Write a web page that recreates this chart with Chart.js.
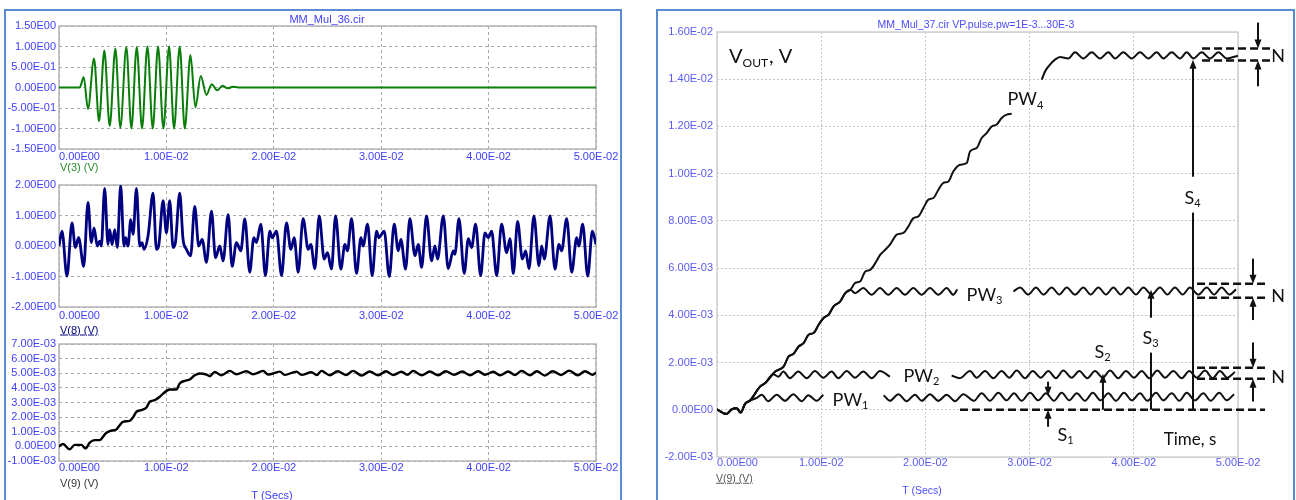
<!DOCTYPE html>
<html>
<head>
<meta charset="utf-8">
<script src="https://cdn.jsdelivr.net/npm/chart.js@4.4.0/dist/chart.umd.min.js"></script>
<style>
body { margin: 0; width: 1296px; height: 500px; overflow: hidden; position: relative; background: #fff; font-family: "Liberation Sans", Arial, sans-serif; }
.panel { position: absolute; border: 2px solid #5b8bd0; border-bottom: none; box-sizing: border-box; }
canvas { position: absolute; }
.t { position: absolute; font-size: 11px; line-height: 1; white-space: nowrap; transform: translateY(-50%); }
.c { transform: translate(-50%, -50%); }
</style>
</head>
<body>
<div class="panel" style="left:4px;top:9px;width:618px;height:491px"></div>
<div class="panel" style="left:656px;top:9px;width:639px;height:491px"></div>

<canvas id="scope1" width="620" height="165" style="left:0;top:0"></canvas>
<canvas id="scope2" width="620" height="165" style="left:0;top:160px"></canvas>
<canvas id="scope3" width="620" height="180" style="left:0;top:320px"></canvas>
<canvas id="scope4" width="636" height="488" style="left:660px;top:12px"></canvas>

<div class="t c" style="left:327px;top:19px;color:#3c3cff">MM_Mul_36.cir</div>
<div class="t" style="left:60px;top:167px;color:#2a8a2a">V(3) (V)</div>
<div class="t" style="left:60px;top:330px;color:#000080;text-decoration:underline">V(8) (V)</div>
<div class="t" style="left:60px;top:483px;color:#333">V(9) (V)</div>
<div class="t c" style="left:272px;top:495px;color:#3c3cff">T (Secs)</div>

<div class="t c" style="left:976px;top:24px;color:#4a4aff;font-size:10.5px">MM_Mul_37.cir VP.pulse.pw=1E-3...30E-3</div>
<div class="t" style="left:716px;top:478px;color:#555;font-size:10.5px;text-decoration:underline">V(9) (V)</div>
<div class="t c" style="left:922px;top:490px;color:#4a4aff;font-size:10.5px">T (Secs)</div>

<script>
// V(3): [time s, volts]
const v3 = [[0,0],[0.00193,0],[0.00230,0.25],[0.00270,-0.52],[0.00326,0.71],[0.00373,-0.82],[0.00422,0.90],[0.00472,-0.94],
  [0.00525,0.95],[0.00571,-0.98],[0.00627,0.98],[0.00674,-1.0],[0.00724,0.99],[0.00773,-1.0],[0.00823,1.0],[0.00873,-1.0],
  [0.00922,1.0],[0.00972,-1.0],[0.01025,1.0],[0.01071,-1.0],[0.01124,1.0],[0.01171,-1.0],[0.01224,0.79],[0.01270,-0.48],
  [0.01320,0.28],[0.01373,-0.18],[0.01422,0.08],[0.01472,-0.07],[0.01522,0.04],[0.01571,-0.02],[0.01621,0.02],[0.01668,0],[0.05,0]];

// V(8)
const v8 = [[0,0],[0.00028,0.49],[0.00074,-0.99],[0.00121,0.76],[0.00152,-0.05],[0.00183,0.27],[0.00230,-0.67],[0.00270,1.43],
  [0.00301,0.11],[0.00326,0.59],[0.00357,0],[0.00379,0.16],[0.00394,0],[0.00425,1.89],[0.00456,0.05],[0.00472,0.54],
  [0.00494,0.05],[0.00519,0.54],[0.00543,-0.05],[0.00574,1.98],[0.00605,0],[0.00621,0.27],[0.00643,0],[0.00668,0.86],
  [0.00690,0.38],[0.00721,1.89],[0.00752,0],[0.00773,0.11],[0.00792,-0.11],[0.00830,0.35],[0.00876,1.73],[0.00907,-0.11],
  [0.00928,0],[0.00969,1.49],[0.01000,0.43],[0.01031,1.49],[0.01062,-0.05],[0.01084,0.11],[0.01124,1.73],[0.01155,0.22],
  [0.01187,-0.11],[0.01225,-0.32],[0.01264,1.30],[0.01301,0],[0.01333,0.22],[0.01373,-0.54],[0.01420,1.14],[0.01457,-0.38],
  [0.01497,0],[0.01528,-0.49],[0.01575,1.03],[0.01612,-0.67],[0.01652,0.11],[0.01693,-0.16],
  [0.01730,0.89],[0.01776,-0.86],[0.01814,0.27],[0.01839,0.11],[0.01879,0.72],[0.01922,-0.97],[0.01963,0.49],[0.01985,0.27],
  [0.02025,0.49],[0.02072,-0.97],[0.02118,0.76],[0.02159,-0.11],[0.02190,0.27],[0.02227,-0.86],[0.02273,0.90],[0.02320,-0.11],
  [0.02345,0.05],[0.02382,-0.74],[0.02423,0.99],[0.02469,-0.43],[0.02500,-0.22],[0.02537,-0.76],[0.02575,0.99],[0.02624,-0.76],
  [0.02662,0.05],[0.02686,-0.16],[0.02724,0.90],[0.02770,-0.90],[0.02811,0.27],[0.02832,0],[0.02873,0.72],[0.02916,-0.97],
  [0.02957,0.49],[0.02978,0.27],[0.03028,0.49],[0.03075,-1.0],[0.03121,0.72],[0.03159,-0.16],[0.03183,0.22],[0.03227,-0.76],
  [0.03267,0.90],[0.03314,-0.32],[0.03345,0.05],
  [0.03376,-0.70],[0.03422,0.99],[0.03469,-0.49],[0.03500,0],[0.03525,-0.43],[0.03578,0.99],[0.03624,-0.74],[0.03671,-0.16],
  [0.03686,-0.27],[0.03724,0.90],[0.03773,-0.90],[0.03811,0.24],[0.03842,-0.05],[0.03879,0.72],[0.03926,-0.97],[0.03966,0.43],
  [0.03997,0.27],[0.04028,0.49],[0.04075,-0.97],[0.04121,0.72],[0.04168,-0.22],[0.04199,0.24],[0.04230,-0.90],[0.04270,0.81],
  [0.04314,-0.43],[0.04345,-0.16],[0.04376,-0.74],[0.04422,0.99],[0.04469,-0.65],[0.04494,0],[0.04519,-0.43],[0.04572,0.99],
  [0.04618,-0.76],[0.04655,0.05],[0.04680,-0.16],[0.04727,0.90],[0.04774,-0.86],[0.04820,0.27],[0.04841,0],[0.04876,0.72],
  [0.04923,-0.99],[0.04966,0.49],[0.05000,0.05]];

// V(9), left panel
const v9 = [[0,0],[0.00037,0.00016],[0.00099,-0.00020],[0.00146,0.00010],[0.00208,0.00010],[0.00248,-0.00014],[0.00286,0.00025],
  [0.00332,0.00043],[0.00379,0.00043],[0.00410,0.00066],[0.00435,0.00089],[0.00472,0.00105],[0.00534,0.00116],[0.00565,0.00145],
  [0.00596,0.00168],[0.00658,0.00175],[0.00689,0.00198],[0.00720,0.00236],[0.00767,0.00248],[0.00814,0.00266],[0.00845,0.00305],
  [0.00891,0.00316],[0.00938,0.00339],[0.00969,0.00361],[0.01031,0.00389],[0.01093,0.00389],[0.01124,0.00430],[0.01171,0.00448],
  [0.01217,0.00457],[0.01264,0.00486],[0.01311,0.00498],[0.01373,0.00491],[0.01404,0.00480],[0.01450,0.00509],[0.01512,0.00486],
  [0.01590,0.00516],[0.01652,0.00493],[0.01745,0.00514],[0.01807,0.00493],[0.01901,0.00516],[0.01947,0.00491],[0.02056,0.00511],
  [0.02102,0.00489],[0.02211,0.00511],[0.02258,0.00489],[0.02351,0.00507],[0.02400,0.00488],
  [0.02444,0.00516],[0.02522,0.00486],[0.02593,0.00514],[0.02671,0.00488],[0.02739,0.00516],[0.02817,0.00484],[0.02894,0.00512],
  [0.02972,0.00486],[0.03044,0.00514],[0.03112,0.00488],[0.03190,0.00510],[0.03243,0.00490],[0.03298,0.00516],[0.03376,0.00486],
  [0.03453,0.00512],[0.03531,0.00486],[0.03600,0.00514],[0.03680,0.00490],[0.03755,0.00512],[0.03826,0.00486],[0.03904,0.00514],
  [0.03966,0.00490],[0.04043,0.00510],[0.04106,0.00486],[0.04183,0.00512],[0.04246,0.00488],[0.04308,0.00516],[0.04385,0.00486],
  [0.04448,0.00514],[0.04525,0.00484],[0.04596,0.00514],[0.04674,0.00488],[0.04752,0.00518],[0.04830,0.00486],[0.04898,0.00514],
  [0.04969,0.00490],[0.05000,0.00505]];

// right panel, V(9) for four pulse widths (null = gap behind the label)
const pw1 = [[0,0.00002],[0.00089,-0.00018],[0.00141,0.00002],[0.00189,0.00007],[0.00227,-0.00012],[0.00269,0.00025],[0.00317,0.00039],
  [0.00381,0.00050],[0.00429,0.00064],[0.00492,0.00036],[0.00573,0.00064],[0.00653,0.00038],[0.00732,0.00066],[0.00813,0.00036],
  [0.00876,0.00062],[0.00957,0.00038],[0.01020,0.00064],[0.01300,null],
  [0.01599,0.00062],[0.01660,0.00038],[0.01740,0.00066],[0.01820,0.00036],[0.01900,0.00064],[0.01965,0.00038],[0.02044,0.00066],
  [0.02124,0.00038],[0.02204,0.00064],[0.02284,0.00036],[0.02364,0.00066],[0.02466,0.00038],[0.02540,0.00070],[0.02620,0.00038],
  [0.02700,0.00072],[0.02780,0.00040],[0.02850,0.00070],[0.02924,0.00038],[0.03004,0.00072],[0.03084,0.00040],[0.03157,0.00070],
  [0.03234,0.00038],[0.03308,0.00072],[0.03381,0.00040],[0.03452,0.00070],[0.03532,0.00038],[0.03606,0.00072],[0.03682,0.00040],
  [0.03755,0.00070],[0.03829,0.00038],[0.03906,0.00072],[0.03980,0.00040],[0.04060,0.00070],[0.04130,0.00038],[0.04213,0.00072],
  [0.04283,0.00040],[0.04364,0.00070],[0.04437,0.00038],[0.04508,0.00072],[0.04587,0.00040],[0.04667,0.00070],[0.04738,0.00038],
  [0.04820,0.00072],[0.04892,0.00040],[0.04962,0.00066]];

const pw2 = [[0,0.00002],[0.00089,-0.00018],[0.00141,0.00002],[0.00189,0.00007],[0.00227,-0.00012],[0.00269,0.00025],[0.00317,0.00039],
  [0.00415,0.00099],[0.00463,0.00113],[0.00540,0.00150],[0.00590,0.00140],[0.00636,0.00162],[0.00700,0.00134],[0.00780,0.00162],
  [0.00861,0.00134],[0.00940,0.00164],[0.01020,0.00136],[0.01100,0.00162],[0.01164,0.00134],[0.01245,0.00164],[0.01324,0.00136],
  [0.01404,0.00162],[0.01485,0.00134],[0.01564,0.00164],[0.01660,0.00140],[0.02000,null],
  [0.02252,0.00145],[0.02330,0.00134],[0.02428,0.00164],[0.02492,0.00136],[0.02572,0.00164],[0.02652,0.00134],[0.02732,0.00164],
  [0.02805,0.00136],[0.02876,0.00166],[0.02956,0.00134],[0.03030,0.00164],[0.03107,0.00136],[0.03180,0.00164],[0.03253,0.00134],
  [0.03323,0.00166],[0.03404,0.00136],[0.03477,0.00164],[0.03554,0.00134],[0.03628,0.00164],[0.03702,0.00136],[0.03772,0.00166],
  [0.03851,0.00134],[0.03925,0.00164],[0.04002,0.00136],[0.04076,0.00164],[0.04149,0.00134],[0.04226,0.00166],[0.04300,0.00136],
  [0.04379,0.00164],[0.04460,0.00134],[0.04533,0.00164],[0.04604,0.00136],[0.04683,0.00166],[0.04757,0.00134],[0.04827,0.00164],
  [0.04897,0.00136],[0.04971,0.00160]];

const pw3 = [[0,0.00002],[0.00089,-0.00018],[0.00141,0.00002],[0.00189,0.00007],[0.00227,-0.00012],[0.00269,0.00025],[0.00317,0.00039],
  [0.00415,0.00099],[0.00463,0.00113],[0.00559,0.00162],[0.00639,0.00183],[0.00687,0.00226],[0.00735,0.00237],[0.00783,0.00268],
  [0.00831,0.00282],[0.00879,0.00318],[0.00927,0.00325],[0.00975,0.00360],[0.01023,0.00389],[0.01071,0.00403],[0.01119,0.00438],
  [0.01183,0.00459],[0.01231,0.00494],[0.01279,0.00508],[0.01327,0.00494],[0.01404,0.00516],[0.01484,0.00487],[0.01564,0.00516],
  [0.01644,0.00487],[0.01724,0.00516],[0.01804,0.00487],[0.01884,0.00516],[0.01964,0.00487],[0.02044,0.00516],[0.02124,0.00487],
  [0.02204,0.00516],[0.02268,0.00487],[0.02306,0.00510],[0.02600,null],
  [0.02844,0.00501],[0.02908,0.00518],[0.02988,0.00488],[0.03061,0.00518],[0.03132,0.00488],[0.03212,0.00518],[0.03285,0.00488],
  [0.03356,0.00518],[0.03436,0.00488],[0.03516,0.00518],[0.03586,0.00488],[0.03660,0.00518],[0.03733,0.00488],[0.03804,0.00518],
  [0.03874,0.00488],[0.03948,0.00518],[0.04021,0.00488],[0.04092,0.00518],[0.04172,0.00488],[0.04251,0.00518],[0.04322,0.00488],
  [0.04395,0.00518],[0.04469,0.00488],[0.04539,0.00518],[0.04619,0.00488],[0.04700,0.00518],[0.04770,0.00488],[0.04843,0.00518],
  [0.04917,0.00488],[0.04981,0.00510]];

const pw4 = [[0,0.00002],[0.00089,-0.00018],[0.00141,0.00002],[0.00189,0.00007],[0.00227,-0.00012],[0.00269,0.00025],[0.00317,0.00039],
  [0.00415,0.00099],[0.00463,0.00113],[0.00559,0.00162],[0.00639,0.00183],[0.00687,0.00226],[0.00735,0.00237],[0.00783,0.00268],
  [0.00831,0.00282],[0.00879,0.00318],[0.00927,0.00325],[0.00975,0.00360],[0.01023,0.00389],[0.01071,0.00403],[0.01119,0.00438],
  [0.01183,0.00459],[0.01231,0.00494],[0.01279,0.00508],[0.01327,0.00537],[0.01375,0.00544],[0.01423,0.00586],[0.01471,0.00593],
  [0.01519,0.00621],[0.01567,0.00657],[0.01599,0.00671],[0.01660,0.00699],[0.01725,0.00742],[0.01789,0.00749],[0.01837,0.00777],
  [0.01885,0.00812],[0.01933,0.00819],[0.01981,0.00855],[0.02029,0.00890],[0.02077,0.00897],[0.02125,0.00932],[0.02173,0.00961],
  [0.02221,0.00967],[0.02269,0.01010],[0.02333,0.01038],[0.02397,0.01045],[0.02428,0.01094],[0.02492,0.01109],[0.02540,0.01151],
  [0.02588,0.01172],[0.02636,0.01200],[0.02684,0.01208],[0.02732,0.01236],[0.02780,0.01250],[0.02828,0.01254],[0.03000,null],
  [0.03116,0.01398],[0.03148,0.01433],[0.03196,0.01462],[0.03244,0.01483],[0.03292,0.01494],[0.03372,0.01488],[0.03436,0.01514],
  [0.03516,0.01488],[0.03596,0.01514],[0.03676,0.01488],[0.03756,0.01514],[0.03820,0.01488],[0.03900,0.01514],[0.03980,0.01488],
  [0.04060,0.01514],[0.04140,0.01488],[0.04220,0.01514],[0.04284,0.01488],[0.04364,0.01514],[0.04444,0.01488],[0.04508,0.01514],
  [0.04572,0.01488],[0.04652,0.01514],[0.04732,0.01488],[0.04812,0.01514],[0.04892,0.01488],[0.05000,0.01500]];

// annotation texts and arrows of the right panel, placed in data units
const notes = [
  {text: 'V', sub: 'OUT', tail: ', V', t: 0.00115, v: 0.01496, size: 20, left: true},
  {text: 'PW', sub: '1', t: 0.01286, v: 0.00042, size: 18},
  {text: 'PW', sub: '2', t: 0.01967, v: 0.00144, size: 18},
  {text: 'PW', sub: '3', t: 0.02572, v: 0.00487, size: 18},
  {text: 'PW', sub: '4', t: 0.02965, v: 0.01314, size: 18},
  {text: 'S', sub: '1', t: 0.03349, v: -0.00106, size: 18},
  {text: 'S', sub: '2', t: 0.03704, v: 0.00246, size: 18},
  {text: 'S', sub: '3', t: 0.04165, v: 0.00305, size: 18},
  {text: 'S', sub: '4', t: 0.04568, v: 0.00898, size: 18},
  {text: 'Time, s', t: 0.04539, v: -0.00127, size: 17},
  {text: 'N', t: 0.05384, v: 0.01496, size: 18},
  {text: 'N', t: 0.05384, v: 0.00479, size: 18},
  {text: 'N', t: 0.05384, v: 0.00140, size: 18}
];
const arrows = [
  {t: 0.03177, from: 0.00119, to: 0.00059, head: true},
  {t: 0.03177, from: -0.00072, to: 0, head: true},
  {t: 0.03704, from: 0, to: 0.00153, head: true},
  {t: 0.04165, from: 0, to: 0.00242},
  {t: 0.04165, from: 0.00390, to: 0.00508, head: true},
  {t: 0.04568, from: 0, to: 0.00835},
  {t: 0.04568, from: 0.00987, to: 0.01483, head: true},
  {t: 0.05192, from: 0.01640, to: 0.01530, head: true},
  {t: 0.05192, from: 0.01370, to: 0.01479, head: true},
  {t: 0.05144, from: 0.00640, to: 0.00534, head: true},
  {t: 0.05144, from: 0.00380, to: 0.00475, head: true},
  {t: 0.05144, from: 0.00285, to: 0.00178, head: true},
  {t: 0.05144, from: 0.00035, to: 0.00131, head: true}
];
const dashLines = [
  {v: 0, t0: 0.02332, t1: 0.05259},
  {v: 0.01530, t0: 0.04655, t1: 0.05307},
  {v: 0.01479, t0: 0.04655, t1: 0.05307},
  {v: 0.00534, t0: 0.04607, t1: 0.05259},
  {v: 0.00475, t0: 0.04607, t1: 0.05259},
  {v: 0.00178, t0: 0.04607, t1: 0.05259},
  {v: 0.00131, t0: 0.04607, t1: 0.05259}
];

function fmtE(v) {
  if (Math.abs(v) < 1e-12) return '0.00E00';
  let e = Math.floor(Math.log10(Math.abs(v)));
  let m = v / Math.pow(10, e);
  if (Math.abs(m) >= 9.995) { e += 1; m = v / Math.pow(10, e); }
  const es = e === 0 ? '00' : (e < 0 ? '-' : '') + String(Math.abs(e)).padStart(2, '0');
  return m.toFixed(2) + 'E' + es;
}

const xLabels = {
  id: 'xLabels',
  afterDraw(chart, args, opts) {
    const s = chart.scales.x, ctx = chart.ctx;
    ctx.save();
    ctx.font = opts.font;
    ctx.fillStyle = opts.color;
    ctx.textBaseline = 'middle';
    s.ticks.forEach((tk, i) => {
      ctx.textAlign = i === 0 ? 'left' : 'center';
      ctx.fillText(fmtE(tk.value), s.getPixelForValue(tk.value), chart.chartArea.bottom + opts.gap);
    });
    ctx.restore();
  }
};

const frame = {
  id: 'frame',
  beforeDatasetsDraw(chart, args, opts) {
    const a = chart.chartArea, ctx = chart.ctx;
    ctx.save();
    ctx.strokeStyle = opts.color;
    ctx.lineWidth = opts.width;
    ctx.strokeRect(a.left, a.top, a.right - a.left, a.bottom - a.top);
    ctx.restore();
  }
};

function subText(ctx, n, x, y) {
  const big = n.size + 'px Lato', small = Math.round(n.size * 0.62) + 'px Lato';
  ctx.font = big;
  const w1 = ctx.measureText(n.text).width;
  ctx.font = small;
  const w2 = n.sub ? ctx.measureText(n.sub).width + 1 : 0;
  ctx.font = big;
  const w3 = n.tail ? ctx.measureText(n.tail).width : 0;
  let x0 = n.left ? x : x - (w1 + w2 + w3) / 2;
  ctx.textAlign = 'left';
  ctx.textBaseline = 'middle';
  ctx.font = big;
  ctx.fillText(n.text, x0, y);
  if (n.sub) {
    ctx.font = small;
    ctx.fillText(n.sub, x0 + w1, y + n.size * 0.33);
  }
  if (n.tail) {
    ctx.font = big;
    ctx.fillText(n.tail, x0 + w1 + w2, y);
  }
}

const marks = {
  id: 'marks',
  afterDatasetsDraw(chart) {
    const ctx = chart.ctx, xs = chart.scales.x, ys = chart.scales.y;
    ctx.save();
    ctx.strokeStyle = '#111';
    ctx.fillStyle = '#111';
    ctx.lineWidth = 2.5;
    ctx.setLineDash([8, 4]);
    dashLines.forEach(d => {
      ctx.beginPath();
      ctx.moveTo(xs.getPixelForValue(d.t0), ys.getPixelForValue(d.v));
      ctx.lineTo(xs.getPixelForValue(d.t1), ys.getPixelForValue(d.v));
      ctx.stroke();
    });
    ctx.setLineDash([]);
    ctx.lineWidth = 2;
    arrows.forEach(a => {
      const x = xs.getPixelForValue(a.t), y1 = ys.getPixelForValue(a.from), y2 = ys.getPixelForValue(a.to);
      const dir = y2 > y1 ? 1 : -1;
      ctx.beginPath();
      ctx.moveTo(x, y1);
      ctx.lineTo(x, a.head ? y2 - dir * 6 : y2);
      ctx.stroke();
      if (a.head) {
        ctx.beginPath();
        ctx.moveTo(x, y2);
        ctx.lineTo(x - 3.5, y2 - dir * 9);
        ctx.lineTo(x + 3.5, y2 - dir * 9);
        ctx.closePath();
        ctx.fill();
      }
    });
    notes.forEach(n => subText(ctx, n, xs.getPixelForValue(n.t), ys.getPixelForValue(n.v)));
    ctx.restore();
  }
};

function scopeChart(id, series, o) {
  return new Chart(document.getElementById(id), {
    type: 'line',
    data: {
      datasets: series.map(s => ({
        data: s.points.map(p => ({x: p[0], y: p[1]})),
        borderColor: s.color,
        borderWidth: s.width,
        pointRadius: 0,
        spanGaps: false,
        cubicInterpolationMode: 'monotone'
      }))
    },
    options: {
      responsive: false,
      animation: false,
      layout: {padding: {top: o.padTop, right: o.padRight, left: 0, bottom: 0}},
      plugins: {
        legend: {display: false},
        tooltip: {enabled: false},
        xLabels: {font: o.font, color: o.tickColor, gap: o.labelGap},
        frame: {color: o.frameColor, width: 1.5}
      },
      scales: {
        x: {
          type: 'linear', min: 0, max: 0.05,
          ticks: {display: false, stepSize: 0.01},
          grid: {color: o.gridColor, drawTicks: false},
          border: {display: false, dash: o.dash},
          afterFit: s => { s.height = o.xAxisH; }
        },
        y: {
          type: 'linear', min: o.yMin, max: o.yMax,
          ticks: {stepSize: o.yStep, autoSkip: false, color: o.tickColor, font: {family: 'Liberation Sans', size: o.fontSize},
                  padding: o.yPad, callback: v => fmtE(v)},
          grid: {color: o.gridColor, drawTicks: false},
          border: {display: false, dash: o.dash},
          afterFit: s => { s.width = o.yAxisW; }
        }
      }
    },
    plugins: o.extra ? [xLabels, frame, o.extra] : [xLabels, frame]
  });
}

const leftStyle = {padRight: 24, yAxisW: 59, tickColor: '#4040ff', fontSize: 11, font: '11px "Liberation Sans"',
  gridColor: '#a8a8a8', frameColor: '#b4b4b4', dash: [3, 3], yPad: 3};

scopeChart('scope1', [{points: v3, color: '#0a7d0a', width: 2}],
  Object.assign({}, leftStyle, {padTop: 26, xAxisH: 16, labelGap: 8, yMin: -1.5, yMax: 1.5, yStep: 0.5}));
scopeChart('scope2', [{points: v8, color: '#000080', width: 2.8}],
  Object.assign({}, leftStyle, {padTop: 25, xAxisH: 18, labelGap: 9, yMin: -2, yMax: 2, yStep: 1}));
scopeChart('scope3', [{points: v9, color: '#000', width: 2.4}],
  Object.assign({}, leftStyle, {padTop: 24, xAxisH: 39, labelGap: 7, yMin: -0.001, yMax: 0.007, yStep: 0.001}));
scopeChart('scope4', [pw1, pw2, pw3, pw4].map(p => ({points: p, color: '#111', width: 2})),
  {padTop: 20, padRight: 58, yAxisW: 57, xAxisH: 43, labelGap: 6, tickColor: '#5a5af5', fontSize: 11,
   font: '11px "Liberation Sans"', gridColor: '#c4c4c4', frameColor: '#d0d0d0', dash: [2, 2], yPad: 4,
   yMin: -0.002, yMax: 0.016, yStep: 0.002, extra: marks});
</script>
</body>
</html>
